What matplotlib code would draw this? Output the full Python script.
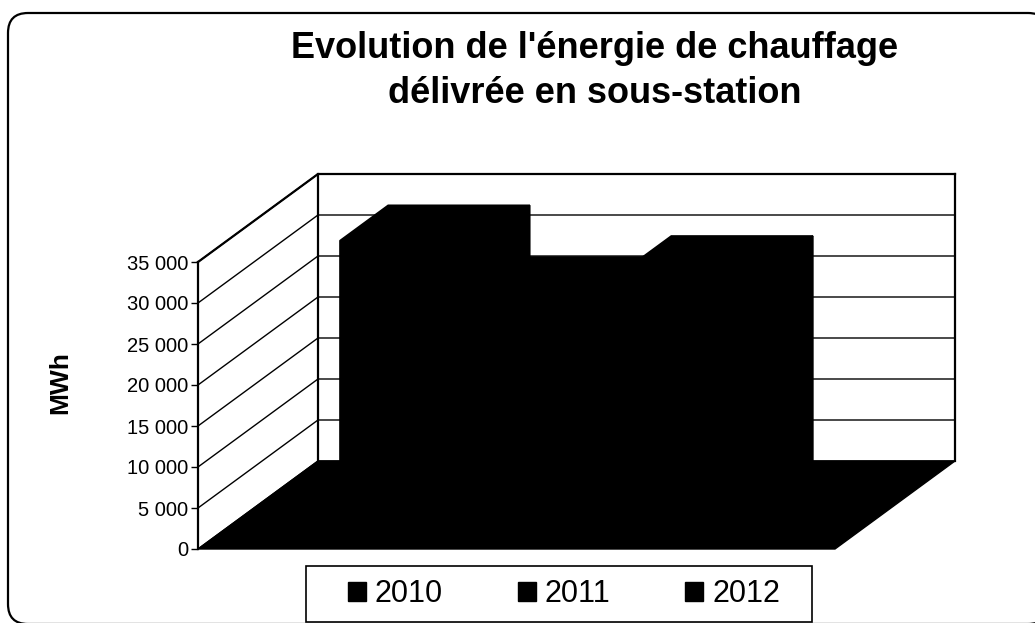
import matplotlib
matplotlib.use('Agg')
import matplotlib.pyplot as plt
from matplotlib.patches import FancyBboxPatch, Patch, Rectangle

plt.rcParams['font.family'] = ['Liberation Sans', 'DejaVu Sans']

# Valeurs (MWh)
annees = ['2010', '2011', '2012']
energie = [34400, 28100, 30660]
graduations = [0, 5000, 10000, 15000, 20000, 25000, 30000, 35000]
etiquettes = ['0', '5 000', '10 000', '15 000', '20 000', '25 000', '30 000', '35 000']

W, H = 1035, 623
fig = plt.figure(figsize=(W / 100, H / 100), dpi=100)

# Cadre arrondi et boite de legende
fond = fig.add_axes([0, 0, 1, 1])
fond.set_xlim(0, W)
fond.set_ylim(H, 0)
fond.axis('off')
fond.add_patch(FancyBboxPatch((8, 13), 1040, 611, boxstyle='round,pad=0,rounding_size=20',
                              fc='white', ec='black', lw=1.6))
fond.add_patch(Rectangle((306, 566), 506, 56, fc='white', ec='black', lw=1.2))

ax = fig.add_axes([198 / W, (H - 549) / H, 637 / W, 287 / H])
ax.patch.set_alpha(0)
largeur = 1.0
xmax = 0.75 * 2 + largeur * len(annees)
ymax = 35000
ax.set_xlim(0, xmax)
ax.set_ylim(0, ymax)

# Décalage oblique de la profondeur 3D
prof_x = xmax * 120 / 637
prof_y = ymax * 88 / 287


def proj(x, y, d):
    return x + d * prof_x, y + d * prof_y


def face(points, **kw):
    xs, ys = zip(*[proj(*p) for p in points])
    ax.fill(xs, ys, clip_on=False, **kw)


# Murs et quadrillage
for v in graduations:
    x0, y0 = proj(0, v, 0)
    x1, y1 = proj(0, v, 1)
    x2, y2 = proj(xmax, v, 1)
    ax.plot([x0, x1, x2], [y0, y1, y2], color='black', lw=1.0, clip_on=False, zorder=1)
x1, y1 = proj(0, 0, 1)
x2, y2 = proj(0, ymax, 1)
ax.plot([x1, x2], [y1, y2], color='black', lw=1.6, clip_on=False, zorder=1)
x1, y1 = proj(xmax, 0, 1)
x2, y2 = proj(xmax, ymax, 1)
ax.plot([x1, x2], [y1, y2], color='black', lw=1.6, clip_on=False, zorder=1)
x0, y0 = proj(0, ymax, 0)
x1, y1 = proj(0, ymax, 1)
x2, y2 = proj(xmax, ymax, 1)
ax.plot([x0, x1, x2], [y0, y1, y2], color='black', lw=1.6, clip_on=False, zorder=1)

# Sol
face([(0, 0, 0), (xmax, 0, 0), (xmax, 0, 1), (0, 0, 1)], color='black', zorder=2)

# Barres (tout est noir sur le fax)
d0, d1 = 0.3, 0.7
for i, val in enumerate(energie):
    g = 0.75 + i * largeur
    d = g + largeur
    face([(g, 0, d0), (d, 0, d0), (d, val, d0), (g, val, d0)], color='black', lw=1.2, zorder=3)
    face([(g, val, d0), (d, val, d0), (d, val, d1), (g, val, d1)], color='black', lw=1.2, zorder=3)
    face([(d, 0, d0), (d, 0, d1), (d, val, d1), (d, val, d0)], color='black', lw=1.2, zorder=3)

ax.set_xticks([])
ax.set_yticks(graduations)
ax.set_yticklabels(etiquettes, fontsize=14.5)
ax.tick_params(axis='y', length=5, width=1, pad=2)
for cote in ['top', 'right', 'bottom']:
    ax.spines[cote].set_visible(False)
ax.spines['left'].set_linewidth(1.6)

fig.text(60 / W, 1 - 383 / H, 'MWh', rotation=90, ha='center', va='center',
         fontsize=19, fontweight='bold')
fig.text(595 / W, 1 - 58 / H, "Evolution de l'énergie de chauffage", ha='center', va='baseline',
         fontsize=26, fontweight='bold')
fig.text(595 / W, 1 - 103 / H, 'délivrée en sous-station', ha='center', va='baseline',
         fontsize=26, fontweight='bold')

# Légende
poignees = [Patch(fc='black', ec='black', label=a) for a in annees]
leg = fig.legend(handles=poignees, ncol=3, loc='center', bbox_to_anchor=(564 / W, 1 - 594 / H),
                 fontsize=22, frameon=False,
                 handlelength=0.58, handleheight=0.58, handletextpad=0.3, columnspacing=2.45,
                 borderpad=0, borderaxespad=0)

plt.savefig('out.png', dpi=100)
